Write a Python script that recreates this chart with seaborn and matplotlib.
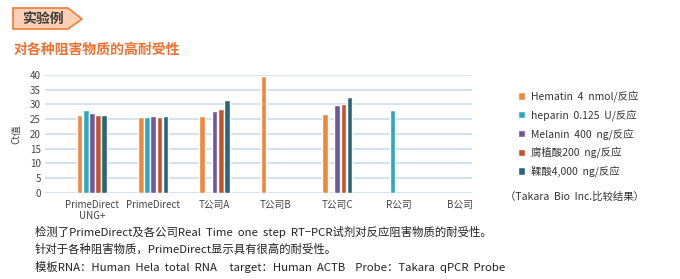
import numpy as np
import pandas as pd
import matplotlib
matplotlib.use("Agg")
import matplotlib.pyplot as plt
from matplotlib.patches import Polygon
import seaborn as sns

categories = ["PrimeDirect\nUNG+", "PrimeDirect", "T公司A", "T公司B", "T公司C", "R公司", "B公司"]
series = ["Hematin  4  nmol/反应", "heparin  0.125  U/反应", "Melanin  400  ng/反应",
          "腐植酸200  ng/反应", "鞣酸4,000  ng/反应"]
hematin = [26.4, 25.9, 26.0, 39.6, 26.7, np.nan, np.nan]
heparin = [28.1, 25.9, np.nan, np.nan, np.nan, 28.1, np.nan]
melanin = [27.1, 26.0, 27.9, np.nan, 29.9, np.nan, np.nan]
humic = [26.3, 25.8, 28.3, np.nan, 30.1, np.nan, np.nan]
tannic = [26.3, 26.0, 31.4, np.nan, 32.4, np.nan, np.nan]
colors = ["#F0873C", "#2EA7C6", "#6F55A2", "#C4522B", "#2B6579"]

rows = []
for s, vals in zip(series, [hematin, heparin, melanin, humic, tannic]):
    for c, v in zip(categories, vals):
        rows.append({"cat": c, "series": s, "ct": v})
df = pd.DataFrame(rows)

sns.set_theme(style="white")
plt.rcParams["font.family"] = ["Noto Sans CJK SC", "DejaVu Sans"]

fig = plt.figure(figsize=(6.8, 2.79), dpi=100)
ax = fig.add_axes([0.066, 0.309, 0.628, 0.422])
sns.barplot(data=df, x="cat", y="ct", hue="series", palette=colors, order=categories,
            hue_order=series, width=0.5, gap=0.08, ax=ax, saturation=1, legend=True)
ax.set_ylim(0, 40)
ax.set_yticks(range(0, 41, 5))
ax.set_xlim(-0.767, 6.196)
ax.yaxis.grid(True, color="#C8D8EC", linewidth=1.1)
ax.set_axisbelow(True)
for sp in ax.spines.values():
    sp.set_visible(False)
ax.tick_params(axis="both", length=0, labelsize=7, colors="#444444", pad=3)
ax.tick_params(axis="x", pad=5)
ax.set_xlabel("")
ax.set_ylabel("Ct值", fontsize=7, color="#444444", labelpad=6)
leg = ax.legend(loc="upper left", bbox_to_anchor=(1.085, 0.95), frameon=False, fontsize=7.5,
                handlelength=0.7, handleheight=0.7, handletextpad=0.6, labelspacing=0.68)
for t in leg.get_texts():
    t.set_color("#333333")

fig.text(0.742, 0.294, "（Takara  Bio  Inc.比较结果）", fontsize=7.5, color="#333333", va="center")

# banner
fig.patches.append(Polygon([[13/680, 1-8/279], [68/680, 1-8/279], [82/680, 1-19/279],
                            [68/680, 1-29/279], [13/680, 1-29/279]], closed=True,
                           facecolor="#FDD0B6", edgecolor="#F07A3A", linewidth=1.2,
                           transform=fig.transFigure))
fig.text(22/680, 1-19/279, "实验例", fontsize=10, fontweight="bold", color="#3A3A3A", va="center")
fig.text(14/680, 1-50/279, "对各种阻害物质的高耐受性", fontsize=10, fontweight="bold", color="#F07030", va="center")

lines = ["检测了PrimeDirect及各公司Real  Time  one  step  RT−PCR试剂对反应阻害物质的耐受性。",
         "针对于各种阻害物质，PrimeDirect显示具有很高的耐受性。",
         "模板RNA：Human  Hela  total  RNA     target：Human  ACTB    Probe：Takara  qPCR  Probe"]
for txt, y in zip(lines, [232, 249, 267]):
    fig.text(35/680, 1-y/279, txt, fontsize=8.2, color="#222222", va="center")

fig.savefig("out.png", dpi=100)
